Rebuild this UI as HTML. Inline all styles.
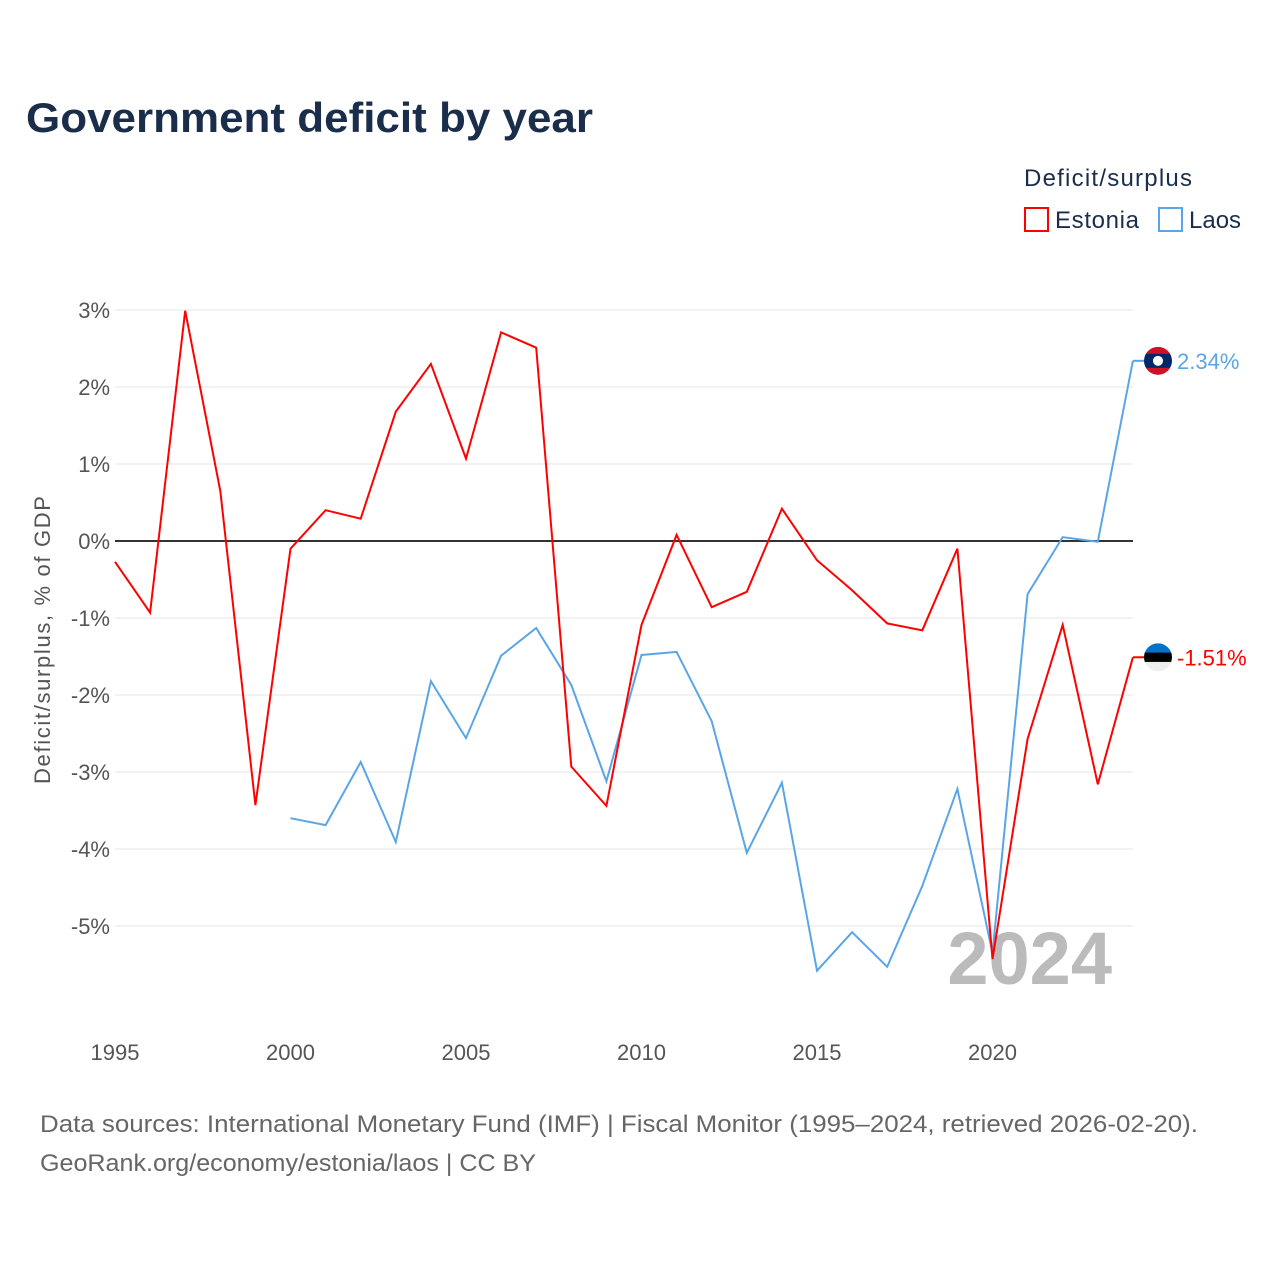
<!DOCTYPE html>
<html><head><meta charset="utf-8"><style>
body{margin:0;background:#fff;font-family:"Liberation Sans",sans-serif;}
svg text{font-family:"Liberation Sans",sans-serif;}
</style></head><body>
<svg width="1280" height="1280" viewBox="0 0 1280 1280">
<text x="26" y="132" font-size="42" font-weight="bold" fill="#1a2e4c" textLength="567" lengthAdjust="spacingAndGlyphs">Government deficit by year</text>
<text x="1024" y="186" font-size="24" fill="#1a2e4c" textLength="168">Deficit/surplus</text>
<g><rect x="1025" y="208" width="23" height="23" fill="none" stroke="#f00" stroke-width="2"/><text x="1055" y="228" font-size="24" fill="#1a2e4c" textLength="84">Estonia</text></g>
<g><rect x="1159" y="208" width="23" height="23" fill="none" stroke="#5aa5e8" stroke-width="2"/><text x="1189" y="228" font-size="24" fill="#1a2e4c">Laos</text></g>
<g id="grid"></g>
<g id="xt"></g>
<text transform="translate(50,640) rotate(-90)" text-anchor="middle" font-size="22" fill="#555" textLength="288">Deficit/surplus, % of GDP</text>
<text x="1112" y="984" text-anchor="end" font-size="74" font-weight="bold" fill="#bbb">2024</text>
<g id="series"></g>
<text x="40" y="1132" font-size="24" fill="#666" textLength="1158" lengthAdjust="spacingAndGlyphs">Data sources: International Monetary Fund (IMF) | Fiscal Monitor (1995–2024, retrieved 2026-02-20).</text>
<text x="40" y="1171" font-size="24" fill="#666" textLength="496" lengthAdjust="spacingAndGlyphs">GeoRank.org/economy/estonia/laos | CC BY</text>
</svg>
<script>
const years=[];for(let y=1995;y<=2024;y++)years.push(y);
const estonia=[-0.27,-0.93,2.99,0.65,-3.43,-0.10,0.40,0.29,1.68,2.30,1.07,2.71,2.51,-2.93,-3.44,-1.09,0.08,-0.86,-0.66,0.42,-0.25,-0.64,-1.07,-1.16,-0.10,-5.43,-2.57,-1.09,-3.16,-1.51];
const laos=[null,null,null,null,null,-3.60,-3.69,-2.87,-3.91,-1.82,-2.56,-1.49,-1.13,-1.87,-3.12,-1.48,-1.44,-2.34,-4.05,-3.14,-5.58,-5.08,-5.53,-4.48,-3.22,-5.35,-0.69,0.05,-0.01,2.34];
const yTicks=[3,2,1,0,-1,-2,-3,-4,-5];
const xTicks=[1995,2000,2005,2010,2015,2020];
const X=y=>115+(y-1995)*35.1, Y=v=>541-v*77;
const NS="http://www.w3.org/2000/svg";
function mk(t,a,p){const e=document.createElementNS(NS,t);for(const k in a)e.setAttribute(k,a[k]);p.appendChild(e);return e;}
const g=document.getElementById('grid');
yTicks.forEach(v=>{
 const l=mk('line',{x1:115,x2:1133,y1:Y(v),y2:Y(v),stroke:v===0?'#333':'#e6e6e6','stroke-width':v===0?2:1},g);
 
 
 const t=mk('text',{x:110,y:Y(v)+8,'text-anchor':'end','font-size':22,fill:'#555'},g);t.textContent=v+'%';
 
 
});
const xt=document.getElementById('xt');
xTicks.forEach(v=>{const t=mk('text',{x:X(v),y:1060,'text-anchor':'middle','font-size':22,fill:'#555'},xt);t.textContent=v;
 
 });
const s=document.getElementById('series');
function line(data,color,name){
 let d='';data.forEach((v,i)=>{if(v==null)return;d+=(d?'L':'M')+X(years[i])+','+Y(v);});
 const p=mk('path',{d:d,fill:'none',stroke:color,'stroke-width':2},s);
 
 
}
line(laos,'#5aa5e8','laos-line');line(estonia,'#f00','estonia-line');
function flag(v,color,name,cols){
 const y=Y(v),cx=1158;
 mk('line',{x1:1133,x2:1145,y1:y,y2:y,stroke:color,'stroke-width':2},s);
 const h=28/cols.length;
 const cp=mk('clipPath',{id:name+'c'},s);mk('circle',{cx:cx,cy:y,r:14},cp);
 const fg=mk('g',{'clip-path':'url(#'+name+'c)'},s);
 
 
 cols.forEach((c,i)=>mk('rect',{x:cx-14,y:y-14+i*h,width:28,height:h+0.5,fill:c},fg));
 if(name==='laos')mk('circle',{cx:cx,cy:y,r:5,fill:'#fff'},fg);
 const t=mk('text',{x:1177,y:y+8,'font-size':22,fill:color},s);t.textContent=v.toFixed(2)+'%';
 
 
}
flag(laos[laos.length-1],'#5aa5e8','laos',['#ce1126','#002868','#002868','#ce1126']);
flag(estonia[estonia.length-1],'#f00','estonia',['#0072ce','#000','#eee']);
</script>
</body></html>
